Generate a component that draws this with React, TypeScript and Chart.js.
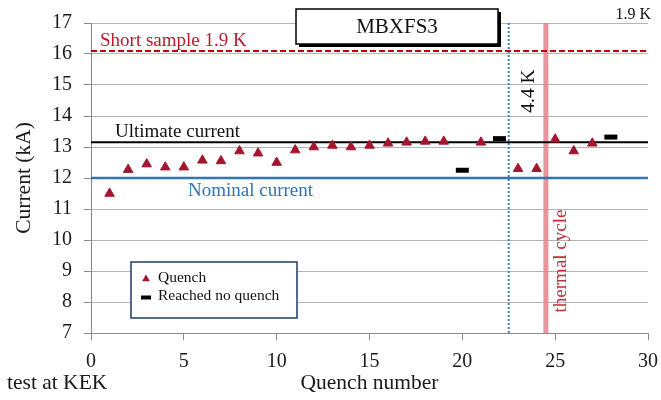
import React, { useEffect, useRef } from "react";
import { Chart, registerables } from "chart.js";

Chart.register(...registerables);

// ---- data ----
const quenchNumbers = [1, 2, 3, 4, 5, 6, 7, 8, 9, 10, 11, 12, 13, 14, 15, 16, 17, 18, 19, 21, 23, 24, 25, 26, 27];
const quenchCurrents = [11.5, 12.27, 12.45, 12.35, 12.35, 12.57, 12.55, 12.87, 12.8, 12.5, 12.9, 13.0, 13.05, 13.0, 13.05, 13.12, 13.15, 13.18, 13.18, 13.15, 12.3, 12.3, 13.25, 12.87, 13.12];
const noQuenchNumbers = [20, 22, 28];
const noQuenchCurrents = [12.25, 13.27, 13.32];

const ultimateCurrent = 13.15;
const nominalCurrent = 12.0;
const shortSample19K = 16.1;
const switchTo44K = 22.5;
const thermalCycleAt = 24.5;

const xMin = 0;
const xMax = 30;
const xStep = 5;
const yMin = 7;
const yMax = 17;
const yStep = 1;

const SERIF = "'Liberation Serif', 'Times New Roman', serif";
const RED_DARK = "#a3162e";
const BLUE = "#2e75b6";

const annotations = {
  id: "annotations",
  afterDraw(chart: any) {
    const ctx = chart.ctx as CanvasRenderingContext2D;
    const xs = chart.scales.x;
    const ys = chart.scales.y;
    const area = chart.chartArea;
    ctx.save();

    // title box with shadow
    const bx = 296, by = 9, bw = 202, bh = 35;
    ctx.fillStyle = "#000";
    ctx.fillRect(bx + 3, by + 3, bw, bh);
    ctx.fillStyle = "#fff";
    ctx.fillRect(bx, by, bw, bh);
    ctx.strokeStyle = "#000";
    ctx.lineWidth = 1.5;
    ctx.strokeRect(bx, by, bw, bh);
    ctx.fillStyle = "#111";
    ctx.font = `21px ${SERIF}`;
    ctx.textAlign = "center";
    ctx.textBaseline = "middle";
    ctx.fillText("MBXFS3", bx + bw / 2, by + bh / 2 + 1);

    // 1.9 K top right
    ctx.font = `16px ${SERIF}`;
    ctx.textAlign = "right";
    ctx.textBaseline = "alphabetic";
    ctx.fillText("1.9 K", 651, 19);

    // short sample label
    ctx.font = `19px ${SERIF}`;
    ctx.textAlign = "left";
    ctx.fillStyle = "#b81c2c";
    ctx.fillText("Short sample 1.9 K", area.left + 9, ys.getPixelForValue(shortSample19K) - 5);

    // ultimate current label
    ctx.fillStyle = "#111";
    ctx.fillText("Ultimate current", 115, ys.getPixelForValue(ultimateCurrent) - 5);

    // nominal current label
    ctx.fillStyle = BLUE;
    ctx.fillText("Nominal current", 188, ys.getPixelForValue(nominalCurrent) + 18);

    // 4.4 K rotated
    ctx.save();
    ctx.translate(xs.getPixelForValue(switchTo44K) + 20, 91);
    ctx.rotate(-Math.PI / 2);
    ctx.fillStyle = "#111";
    ctx.font = `19.5px ${SERIF}`;
    ctx.textAlign = "center";
    ctx.textBaseline = "middle";
    ctx.fillText("4.4 K", 0, 0);
    ctx.restore();

    // thermal cycle rotated
    ctx.save();
    ctx.translate(xs.getPixelForValue(thermalCycleAt) + 15, 261);
    ctx.rotate(-Math.PI / 2);
    ctx.fillStyle = "#c0303c";
    ctx.font = `19px ${SERIF}`;
    ctx.textAlign = "center";
    ctx.textBaseline = "middle";
    ctx.fillText("thermal cycle", 0, 0);
    ctx.restore();

    // legend box
    const lx = 131, ly = 262, lw = 166, lh = 56;
    ctx.fillStyle = "#fff";
    ctx.fillRect(lx, ly, lw, lh);
    ctx.strokeStyle = "#1f3a63";
    ctx.lineWidth = 1.5;
    ctx.strokeRect(lx, ly, lw, lh);

    const ds0 = chart.data.datasets[0];
    const ds1 = chart.data.datasets[1];
    // triangle
    const tx = 146, ty = 279, r = 4.5;
    ctx.fillStyle = RED_DARK;
    ctx.beginPath();
    ctx.moveTo(tx, ty - r);
    ctx.lineTo(tx + r * 0.866, ty + r / 2);
    ctx.lineTo(tx - r * 0.866, ty + r / 2);
    ctx.closePath();
    ctx.fill();
    // dash
    ctx.strokeStyle = "#000";
    ctx.lineWidth = 4;
    ctx.beginPath();
    ctx.moveTo(141, 297.5);
    ctx.lineTo(151, 297.5);
    ctx.stroke();

    ctx.fillStyle = "#111";
    ctx.font = `15.5px ${SERIF}`;
    ctx.textAlign = "left";
    ctx.textBaseline = "middle";
    ctx.fillText(ds0.label, 158, 278);
    ctx.fillText(ds1.label, 158, 296);

    // test at KEK
    ctx.font = `21.5px ${SERIF}`;
    ctx.fillStyle = "#1a1a1a";
    ctx.textBaseline = "middle";
    ctx.fillText("test at KEK", 7, 383);

    ctx.restore();
  },
};

export default function App() {
  const canvasRef = useRef<HTMLCanvasElement | null>(null);

  useEffect(() => {
    const canvas = canvasRef.current;
    if (!canvas) return;

    const quenchData = quenchNumbers.map((x, i) => ({ x, y: quenchCurrents[i] }));
    const noQuenchData = noQuenchNumbers.map((x, i) => ({ x, y: noQuenchCurrents[i] }));
    const hLine = (v: number) => [{ x: xMin, y: v }, { x: xMax, y: v }];
    const vLine = (v: number) => [{ x: v, y: yMin }, { x: v, y: yMax }];

    const chart = new Chart(canvas, {
      type: "scatter",
      data: {
        datasets: [
          {
            label: "Quench",
            data: quenchData,
            pointStyle: "triangle",
            pointRadius: 5.5,
            backgroundColor: RED_DARK,
            borderColor: RED_DARK,
            borderWidth: 1,
            order: 0,
          },
          {
            label: "Reached no quench",
            data: noQuenchData,
            pointStyle: "line",
            pointRadius: 6.5,
            backgroundColor: "#000",
            borderColor: "#000",
            borderWidth: 5,
            order: 0,
          },
          {
            type: "line",
            label: "Short sample 1.9 K",
            data: hLine(shortSample19K),
            borderColor: "#c00000",
            borderWidth: 2,
            borderDash: [6, 3],
            pointRadius: 0,
            order: 5,
          },
          {
            type: "line",
            label: "Ultimate current",
            data: hLine(ultimateCurrent),
            borderColor: "#000",
            borderWidth: 2,
            pointRadius: 0,
            order: 5,
          },
          {
            type: "line",
            label: "Nominal current",
            data: hLine(nominalCurrent),
            borderColor: BLUE,
            borderWidth: 2.5,
            pointRadius: 0,
            order: 5,
          },
          {
            type: "line",
            label: "4.4 K",
            data: vLine(switchTo44K),
            borderColor: "#4a7ebb",
            borderWidth: 2,
            borderDash: [2, 2],
            pointRadius: 0,
            order: 5,
          },
          {
            type: "line",
            label: "thermal cycle",
            data: vLine(thermalCycleAt),
            borderColor: "rgba(230, 130, 138, 0.85)",
            borderWidth: 5,
            pointRadius: 0,
            order: 6,
          },
        ],
      } as any,
      options: {
        animation: false,
        responsive: false,
        maintainAspectRatio: false,
        devicePixelRatio: 1,
        layout: { padding: { top: 23, right: 13, left: 0, bottom: 0 } },
        plugins: {
          legend: { display: false },
          tooltip: { enabled: false },
        },
        scales: {
          x: {
            type: "linear",
            min: xMin,
            max: xMax,
            ticks: {
              stepSize: xStep,
              padding: 10,
              color: "#1a1a1a",
              font: { family: SERIF, size: 20 },
              maxRotation: 0,
            },
            grid: {
              drawOnChartArea: false,
              drawTicks: true,
              tickLength: 7,
              tickColor: "#8a8a8a",
            },
            border: { color: "#8a8a8a", width: 1 },
            title: {
              display: true,
              text: "Quench number",
              color: "#1a1a1a",
              font: { family: SERIF, size: 21.5 },
              padding: { top: 0, bottom: 4 },
            },
            afterFit: (scale: any) => {
              scale.height = 67;
              scale.paddingLeft = 0;
              scale.paddingRight = 0;
            },
          },
          y: {
            type: "linear",
            min: yMin,
            max: yMax,
            ticks: {
              stepSize: yStep,
              padding: 12,
              color: "#1a1a1a",
              font: { family: SERIF, size: 20 },
            },
            grid: {
              color: "#b4b4b4",
              lineWidth: 1,
              tickLength: 7,
              tickColor: "#8a8a8a",
            },
            border: { color: "#8a8a8a", width: 1 },
            title: {
              display: true,
              text: "Current (kA)",
              color: "#1a1a1a",
              font: { family: SERIF, size: 21.5 },
              padding: { top: 11, bottom: 0 },
            },
            afterFit: (scale: any) => {
              scale.width = 91;
              scale.paddingTop = 0;
              scale.paddingBottom = 0;
            },
          },
        },
      } as any,
      plugins: [annotations],
    });

    return () => chart.destroy();
  }, []);

  return (
    <div style={{ position: "fixed", left: 0, top: 0, width: 661, height: 400, background: "#fff" }}>
      <canvas ref={canvasRef} width={661} height={400} style={{ display: "block", width: 661, height: 400 }} />
    </div>
  );
}
